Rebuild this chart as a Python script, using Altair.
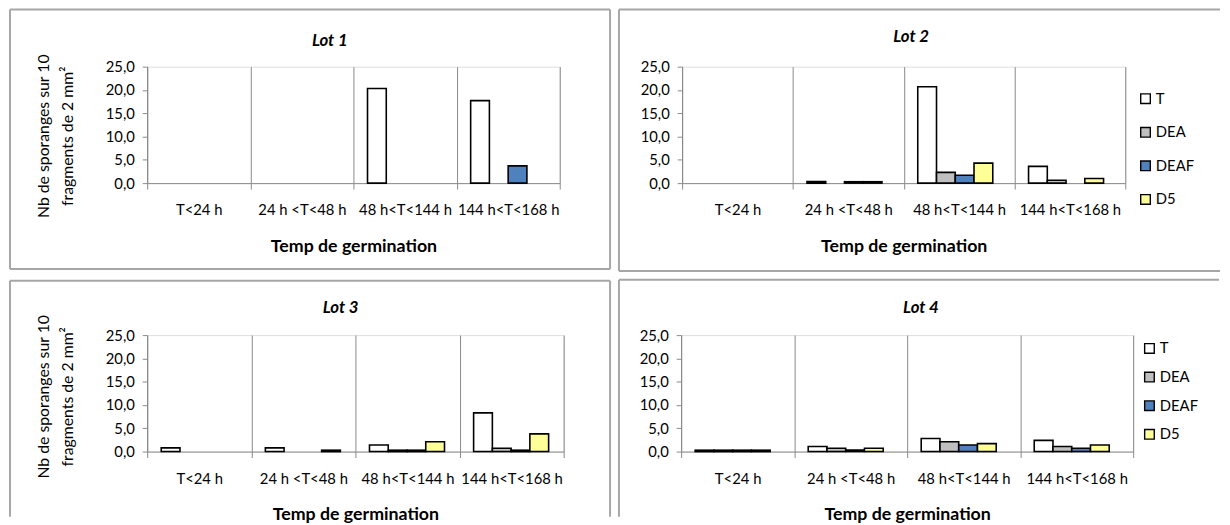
import altair as alt
import pandas as pd

cats = ["T<24 h", "24 h <T<48 h", "48 h<T<144 h", "144 h<T<168 h"]
series = ["T", "DEA", "DEAF", "D5"]
colors = ["#FFFFFF", "#BFBFBF", "#4F81BD", "#FFFF99"]

lot1_T = [0.0, 0.0, 20.3, 17.7]
lot1_DEA = [0.0, 0.0, 0.0, 0.0]
lot1_DEAF = [0.0, 0.0, 0.0, 3.7]
lot1_D5 = [0.0, 0.0, 0.0, 0.0]

lot2_T = [0.0, 0.35, 20.7, 3.6]
lot2_DEA = [0.0, 0.0, 2.3, 0.6]
lot2_DEAF = [0.0, 0.3, 1.7, 0.0]
lot2_D5 = [0.0, 0.3, 4.3, 1.0]

lot3_T = [0.8, 0.8, 1.4, 8.3]
lot3_DEA = [0.0, 0.0, 0.3, 0.7]
lot3_DEAF = [0.0, 0.0, 0.3, 0.3]
lot3_D5 = [0.0, 0.3, 2.1, 3.8]

lot4_T = [0.3, 1.1, 2.8, 2.4]
lot4_DEA = [0.3, 0.7, 2.1, 1.1]
lot4_DEAF = [0.3, 0.35, 1.4, 0.7]
lot4_D5 = [0.3, 0.7, 1.7, 1.4]

y_ticks = [0, 5, 10, 15, 20, 25]
x_title = "Temp de germination"
y_title = ["Nb de sporanges sur 10", "fragments de 2 mm²"]

FONT = "Lato"
GRID = "#898989"
FRAME = "#A6A6A6"


def seg(x1, y1, x2=None, y2=None):
    enc = dict(x=alt.value(x1), y=alt.value(y1))
    if x2 is not None:
        enc["x2"] = alt.value(x2)
    if y2 is not None:
        enc["y2"] = alt.value(y2)
    return alt.Chart(pd.DataFrame({"k": [0]})).mark_rule(
        color=FRAME, strokeWidth=2).encode(**enc)


def panel(name, vals, W, H, frame_segs, show_ytitle, show_legend,
          title_x, title_y, legend_x=0, legend_y=0, legend_pad=10,
          ytitle_x=-110, ytitle_y=70):
    rows = []
    for s, v in zip(series, vals):
        for c, x in zip(cats, v):
            rows.append({"cat": c, "series": s, "value": x})
    df = pd.DataFrame(rows)

    if show_legend:
        legend = alt.Legend(
            title=None, orient="none", legendX=legend_x, legendY=legend_y,
            symbolType="square", symbolSize=95, symbolStrokeColor="black",
            symbolStrokeWidth=1.4, labelFont=FONT, labelFontSize=15,
            labelColor="#000", rowPadding=legend_pad, labelOffset=3)
    else:
        legend = None

    yaxis_kwargs = dict(
        values=y_ticks, labelExpr="replace(format(datum.value, '.1f'), '.', ',')",
        grid=False, domainColor=GRID, tickColor=GRID, tickSize=5,
        labelPadding=8, labelFont=FONT, labelFontSize=15, labelColor="#000")
    if show_ytitle:
        yaxis_kwargs.update(
            title=y_title, titleFont=FONT, titleFontSize=16, titleFontWeight="normal",
            titleColor="#000", titleX=ytitle_x, titleY=ytitle_y, titleAngle=270,
            titleBaseline="top", titleAlign="center", titleLineHeight=24)
    else:
        yaxis_kwargs.update(title=None)

    bars = alt.Chart(df).transform_filter("datum.value > 0").mark_bar(
        stroke="black", strokeWidth=1.6).encode(
        x=alt.X("cat:N", sort=cats,
                scale=alt.Scale(domain=cats, paddingInner=0, paddingOuter=0),
                axis=alt.Axis(
                    title=x_title, labelAngle=0, tickBand="extent", grid=True,
                    gridColor=GRID, gridWidth=1, domainColor=GRID, tickColor=GRID,
                    tickSize=6, labelPadding=14, labelFont=FONT, labelFontSize=15,
                    labelColor="#000", titleFont=FONT, titleFontSize=18,
                    titleFontWeight="bold", titleColor="#000", titlePadding=20)),
        xOffset=alt.XOffset("series:N", sort=series,
                            scale=alt.Scale(domain=series, paddingInner=0,
                                            paddingOuter=0.75)),
        y=alt.Y("value:Q", scale=alt.Scale(domain=[0, 25]),
                axis=alt.Axis(**yaxis_kwargs)),
        color=alt.Color("series:N", sort=series,
                        scale=alt.Scale(domain=series, range=colors),
                        legend=legend),
    )
    title = alt.Chart(pd.DataFrame({"k": [0]})).mark_text(
        font=FONT, fontSize=17, fontWeight="bold", fontStyle="italic",
        color="#000", baseline="middle", align="center").encode(
        x=alt.value(title_x), y=alt.value(title_y), text=alt.value(name))
    layers = [bars, title] + frame_segs
    return alt.layer(*layers).properties(width=W, height=H)


H = 118
# Row 1: plots at y=68; column 1 plot x=148, column 2 plot x=688
f1 = [seg(-139, -58, x2=469), seg(-139, 205, x2=469),
      seg(-139, -58, y2=205), seg(469, -58, y2=205)]
p1 = panel("Lot 1", [lot1_T, lot1_DEA, lot1_DEAF, lot1_D5], 418, H, f1,
           True, False, title_x=185, title_y=-26, ytitle_x=-113, ytitle_y=70)

f2 = [seg(-64, -58, x2=545), seg(-64, 207, x2=545), seg(-64, -58, y2=207)]
p2 = panel("Lot 2", [lot2_T, lot2_DEA, lot2_DEAF, lot2_D5], 449, H, f2,
           False, True, title_x=232, title_y=-30, legend_x=462, legend_y=25,
           legend_pad=17)

# Row 2: plots at y=338
f3 = [seg(-139, -55, x2=469), seg(-139, -55, y2=184), seg(469, -55, y2=184)]
p3 = panel("Lot 3", [lot3_T, lot3_DEA, lot3_DEAF, lot3_D5], 422, H, f3,
           True, False, title_x=196, title_y=-27, ytitle_x=-113, ytitle_y=62)

f4 = [seg(-63, -56, x2=545), seg(-63, -56, y2=184)]
p4 = panel("Lot 4", [lot4_T, lot4_DEA, lot4_DEAF, lot4_D5], 458, H, f4,
           False, True, title_x=243, title_y=-27, legend_x=467, legend_y=6,
           legend_pad=12)

row1 = alt.hconcat(p1, p2, spacing=5).resolve_scale(color="independent").resolve_legend(color="independent")
row2 = alt.hconcat(p3, p4, spacing=5).resolve_scale(color="independent").resolve_legend(color="independent")

chart = alt.vconcat(row1, row2, spacing=5).resolve_scale(
    color="independent").resolve_legend(color="independent").properties(
    padding={"left": 0, "top": -4, "right": 0, "bottom": 0}
).configure_view(stroke=None).configure(background="white")

chart.save("out.html", embed_options={"renderer": "svg", "actions": False})
